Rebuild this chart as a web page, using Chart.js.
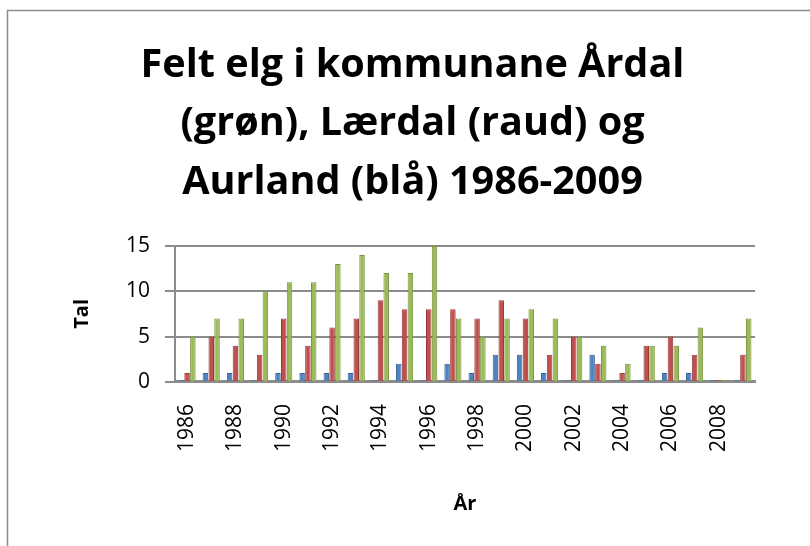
<!DOCTYPE html>
<html lang="nn">
<head>
<meta charset="utf-8">
<title>Felt elg 1986-2009</title>
<script src="https://cdn.jsdelivr.net/npm/chart.js@4/dist/chart.umd.min.js"></script>
<style>
    html, body { margin: 0; padding: 0; background: #fff; }
    #wrap { width: 810px; height: 546px; position: relative; }
</style>
</head>
<body>
<div id="wrap"><canvas id="elg-chart"></canvas></div>
<script>
// Årstal og felte dyr per kommune
const years = ['1986', '1987', '1988', '1989', '1990', '1991', '1992', '1993', '1994', '1995', '1996', '1997',
               '1998', '1999', '2000', '2001', '2002', '2003', '2004', '2005', '2006', '2007', '2008', '2009'];
const aurland = [0, 1, 1, 0, 1, 1, 1, 1, 0, 2, 0, 2, 1, 3, 3, 1, 0, 3, 0, 0, 1, 1, 0, 0];
const laerdal = [1, 5, 4, 3, 7, 4, 6, 7, 9, 8, 8, 8, 7, 9, 7, 3, 5, 2, 1, 4, 5, 3, 0, 3];
const aardal  = [5, 7, 7, 10, 11, 11, 13, 14, 12, 12, 15, 7, 5, 7, 8, 7, 5, 4, 2, 4, 4, 6, 0, 7];
const yTicks = [0, 5, 10, 15];

const titleLines = ['Felt elg i kommunane Årdal', '(grøn), Lærdal (raud) og', 'Aurland (blå) 1986-2009'];

// Ramme rundt heile diagrammet
const framePlugin = {
    id: 'frame',
    beforeDraw(chart) {
        const ctx = chart.ctx;
        ctx.save();
        ctx.fillStyle = '#ffffff';
        ctx.fillRect(0, 0, chart.width, chart.height);
        ctx.strokeStyle = '#8c8c8c';
        ctx.lineWidth = 1.5;
        ctx.strokeRect(7.5, 10.5, chart.width + 20, chart.height + 20);
        ctx.restore();
    }
};

function makeSet(label, data, fill, edge) {
    return {
        label: label,
        data: data,
        backgroundColor: fill,
        borderColor: edge,
        borderWidth: 1,
        minBarLength: 2,
        categoryPercentage: 0.72,
        barPercentage: 0.95
    };
}

const ctx = document.getElementById('elg-chart');

new Chart(ctx, {
    type: 'bar',
    data: {
        labels: years,
        datasets: [
            makeSet('Aurland', aurland, '#4F81BD', '#3A6599'),
            makeSet('Lærdal', laerdal, '#C0504D', '#963C3A'),
            makeSet('Årdal', aardal, '#9BBB59', '#77923F')
        ]
    },
    plugins: [framePlugin],
    options: {
        responsive: true,
        maintainAspectRatio: false,
        animation: false,
        layout: {
            padding: { top: 10, left: 70, right: 55, bottom: 30 }
        },
        plugins: {
            legend: { display: false },
            tooltip: { enabled: false },
            title: {
                display: true,
                text: titleLines,
                color: '#000',
                font: { family: 'Open Sans', size: 39.6, weight: 'bold', lineHeight: 1.48 },
                padding: { top: 26, bottom: 34 }
            }
        },
        scales: {
            x: {
                grid: { display: false, drawTicks: false },
                border: { color: '#8c8c8c', width: 3 },
                ticks: {
                    autoSkip: false,
                    maxRotation: 90,
                    minRotation: 90,
                    padding: 22,
                    color: '#000',
                    font: { family: 'Open Sans', size: 21 },
                    callback: function(value, index) {
                        return index % 2 === 0 ? years[index] : '';
                    }
                },
                title: {
                    display: true,
                    text: 'År',
                    color: '#000',
                    font: { family: 'Open Sans', size: 20, weight: 'bold' },
                    padding: { top: 18, bottom: 0 }
                }
            },
            y: {
                min: 0,
                max: 15,
                afterBuildTicks: function(scale) {
                    scale.ticks = yTicks.map(v => ({ value: v }));
                },
                afterFit: function(scale) {
                    scale.width = 105;
                },
                grid: {
                    color: '#8c8c8c',
                    lineWidth: 2,
                    tickLength: 10
                },
                border: { color: '#8c8c8c', width: 2 },
                ticks: {
                    padding: 15,
                    color: '#000',
                    font: { family: 'Open Sans', size: 21 }
                },
                title: {
                    display: true,
                    text: 'Tal',
                    color: '#000',
                    font: { family: 'Open Sans', size: 20, weight: 'bold' },
                    padding: 0
                }
            }
        }
    }
});
</script>
</body>
</html>
